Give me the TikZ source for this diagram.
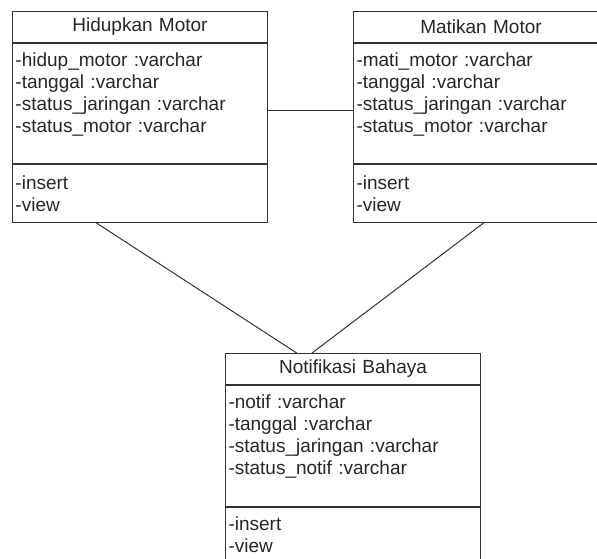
\documentclass[tikz,border=0pt]{standalone}
\usepackage{fontspec}
\setmainfont{Liberation Sans}
\usetikzlibrary{positioning, calc}

\begin{document}
\begin{tikzpicture}[
x=1pt, y=-1pt,
node distance = 0pt,
every node/.style = {font=\fontsize{19}{22}\selectfont, text=black!85},
classbox/.style = {draw=black!80, line width=1pt, rectangle,
                   inner xsep=3pt, inner ysep=0pt, text width=249pt,
                   align=left, minimum height=#1},
classname/.style = {classbox=31pt, align=center},
link/.style = {draw=black!80, line width=1pt},
                        ]
\useasboundingbox (0,0) rectangle (597,559);
\clip (0,0) rectangle (597,559);
% classes
\node (hidup) [classname, anchor=north west] at (12,11) {Hidupkan Motor};
\node (hidupAttr) [classbox=120pt, below=of hidup] {-hidup\_motor :varchar\\-tanggal :varchar\\-status\_jaringan :varchar\\-status\_motor :varchar\\\mbox{}};
\node (hidupOps) [classbox=58pt, below=of hidupAttr] {-insert\\-view};

\node (mati) [classname, anchor=north west] at (353,11) {Matikan Motor};
\node (matiAttr) [classbox=120pt, below=of mati] {-mati\_motor :varchar\\-tanggal :varchar\\-status\_jaringan :varchar\\-status\_motor :varchar\\\mbox{}};
\node (matiOps) [classbox=58pt, below=of matiAttr] {-insert\\-view};

\node (notif) [classname, anchor=north west] at (225,353) {Notifikasi Bahaya};
\node (notifAttr) [classbox=121pt, below=of notif] {-notif :varchar\\-tanggal :varchar\\-status\_jaringan :varchar\\-status\_notif :varchar\\\mbox{}};
\node (notifOps) [classbox=76pt, below=of notifAttr] {-insert\\-view\\\mbox{}};
% associations
\draw [link] ([yshift=-7pt]hidupAttr.east) -- ([yshift=-7pt]matiAttr.west);
\draw [link] ($(hidupOps.south west)!0.33!(hidupOps.south east)$) -- ($(notif.north west)!0.28!(notif.north east)$);
\draw [link] ($(matiOps.south west)!0.51!(matiOps.south east)$) -- ($(notif.north west)!0.34!(notif.north east)$);
\end{tikzpicture}
\end{document}
